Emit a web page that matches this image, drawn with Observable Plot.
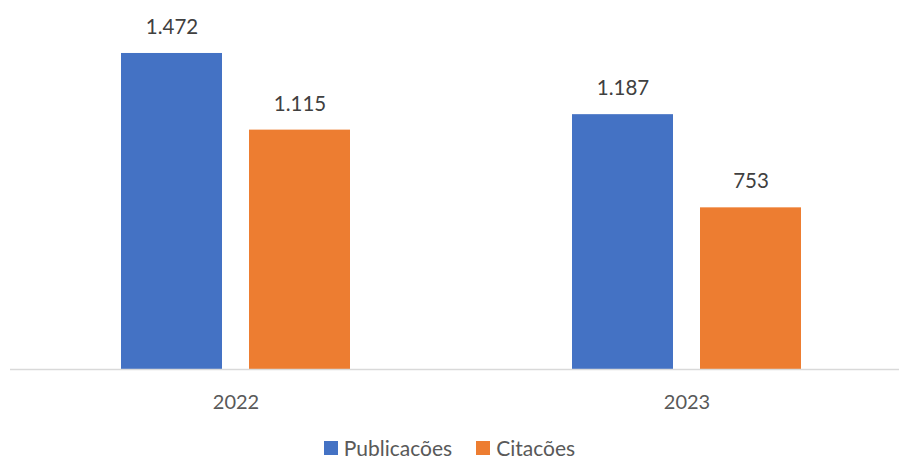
<!DOCTYPE html>
<html>
<head>
<meta charset="utf-8">
<script src="https://cdn.jsdelivr.net/npm/d3@7"></script>
<script src="https://cdn.jsdelivr.net/npm/@observablehq/plot@0.6"></script>
<style>
  html, body { margin: 0; padding: 0; background: #fff; }
  body { width: 899px; height: 461px; overflow: hidden; font-family: Lato, "Open Sans", sans-serif; }
  #chart svg { display: block; }
  #legend { box-sizing: border-box; display: flex; justify-content: center; align-items: center; height: 36px; padding-top: 10px; font-size: 21px; line-height: 24px; color: #595959; }
  .item { display: flex; align-items: center; margin: 0 12px; }
  .sw { width: 14px; height: 14px; margin-right: 6px; }
</style>
</head>
<body>
<div id="chart"></div>
<div id="legend"></div>
<script>
const years = ["2022", "2023"];
const seriesNames = ["Publicacões", "Citacões"];
const publicacoes = [1472, 1187];
const citacoes = [1115, 753];
const colors = ["#4472C4", "#ED7D31"];

const data = [];
years.forEach((y, i) => {
  data.push({year: y, series: seriesNames[0], value: publicacoes[i]});
  data.push({year: y, series: seriesNames[1], value: citacoes[i]});
});

const ptFormat = d3.formatLocale({decimal: ",", thousands: ".", grouping: [3], currency: ["", ""]}).format(",d");

const chart = Plot.plot({
  width: 899,
  height: 425,
  marginTop: 25.5,
  marginBottom: 56,
  marginLeft: 10,
  marginRight: 0,
  style: {fontFamily: "Lato, 'Open Sans', sans-serif", background: "#fff"},
  fx: {domain: years, range: [10, 912], padding: 0, label: null},
  x: {domain: seriesNames, paddingInner: 0.211, paddingOuter: 0.867, axis: null},
  y: {domain: [0, 1600], axis: null},
  color: {domain: seriesNames, range: colors},
  marks: [
    Plot.barY(data, {fx: "year", x: "series", y: "value", fill: "series"}),
    Plot.ruleY([0], {stroke: "#D9D9D9", strokeWidth: 1.5}),
    Plot.text(data, {fx: "year", x: "series", y: "value", text: d => ptFormat(d.value), dy: -26, fill: "#404040", fontSize: 20.5}),
    Plot.axisFx({anchor: "bottom", tickSize: 0, tickPadding: 25, fontSize: 20, color: "#595959", label: null})
  ]
});
document.getElementById("chart").appendChild(chart);

const legend = document.getElementById("legend");
seriesNames.forEach((s, i) => {
  const it = document.createElement("div");
  it.className = "item";
  const sw = document.createElement("span");
  sw.className = "sw";
  sw.style.background = colors[i];
  const t = document.createElement("span");
  t.textContent = s;
  it.appendChild(sw);
  it.appendChild(t);
  legend.appendChild(it);
});
</script>
</body>
</html>
